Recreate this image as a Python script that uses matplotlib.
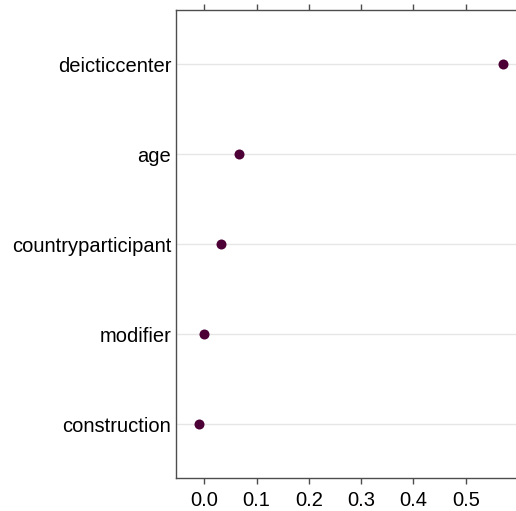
import matplotlib
matplotlib.use('Agg')
import matplotlib.pyplot as plt

plt.rcParams['font.family'] = ['Liberation Sans', 'DejaVu Sans']

# Data (top to bottom in the picture)
variables = ['deicticcenter', 'age', 'countryparticipant', 'modifier', 'construction']
importance = [0.572, 0.066, 0.031, -0.001, -0.011]
xticks = [0.0, 0.1, 0.2, 0.3, 0.4, 0.5]
xtick_labels = ['0.0', '0.1', '0.2', '0.3', '0.4', '0.5']

dot_color = '#4d0036'
axis_color = '#4d4d4d'

fig = plt.figure(figsize=(5.16, 5.11), dpi=100)
ax = fig.add_axes([176 / 516, 1 - 478 / 511, 1 - 176 / 516, (478 - 10) / 511])

ypos = list(range(len(variables), 0, -1))

# Light horizontal guide lines behind the dots
for y in ypos:
    ax.axhline(y, color='#e6e6e6', linewidth=1, zorder=1)

ax.scatter(importance, ypos, s=52, color=dot_color, zorder=3, linewidths=0)

ax.set_ylim(0.4, len(variables) + 0.6)
ax.set_xlim(-0.0541, 0.596)

ax.set_yticks(ypos)
ax.set_yticklabels(variables, fontsize=14.5, color='black')
ax.tick_params(axis='y', length=0, pad=3.5)

ax.set_xticks(xticks)
ax.set_xticklabels(xtick_labels, fontsize=14.5, color='black')
ax.tick_params(axis='x', direction='out', length=4.5, width=1, color=axis_color,
               top=True, bottom=True, labeltop=False, pad=5)

for side in ['left', 'top', 'bottom']:
    ax.spines[side].set_color(axis_color)
    ax.spines[side].set_linewidth(1)
ax.spines['right'].set_visible(False)

fig.savefig('out.png', dpi=100)
